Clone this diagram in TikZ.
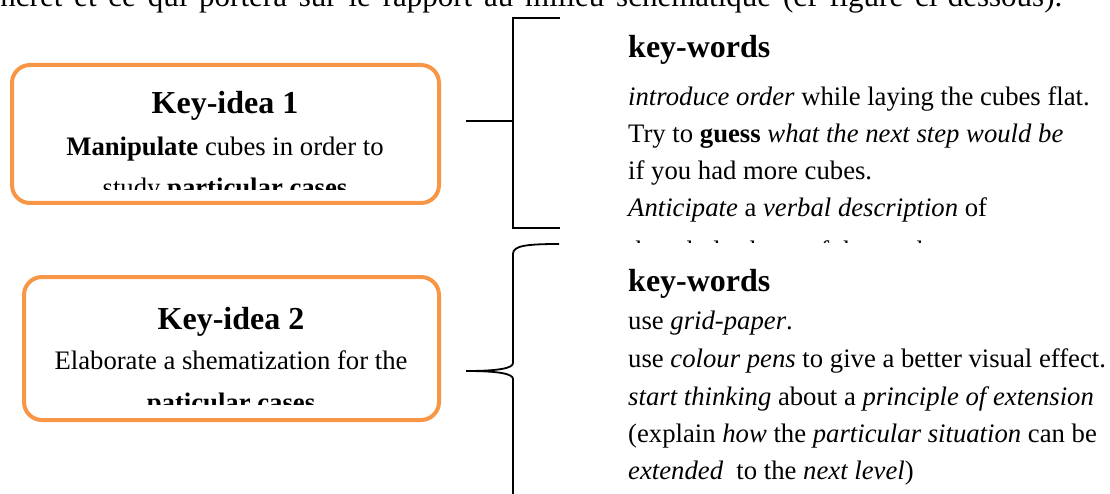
\documentclass[tikz,border=0pt]{standalone}
\usepackage{fontspec}
\setmainfont{Liberation Serif}
\definecolor{orng}{HTML}{F79646}
\begin{document}
\begin{tikzpicture}[x=1pt,y=-1pt,
  keybox/.style={draw=orng, line width=4pt, rounded corners=18pt, inner sep=0pt},
  body/.style={font=\fontsize{26.7}{32}\selectfont, inner sep=0pt, anchor=base west},
  bodyc/.style={body, anchor=base},
  head/.style={font=\fontsize{32}{38}\selectfont\bfseries, inner sep=0pt, anchor=base west},
  headc/.style={head, anchor=base},
  brk/.style={line width=1.8pt, black, line join=miter}]
\useasboundingbox (0,0) rectangle (1110,494);
\clip (0,0) rectangle (1110,494);

% cut-off line of running text at the top
\node[body, font=\fontsize{31}{36}\selectfont] (toptext) at (-29,7) {\makebox[1091pt][s]{concret et ce qui portera sur le rapport au milieu schématique (cf figure ci-dessous).}};

% Key-idea 1
\node[keybox, minimum width=427pt, minimum height=138pt] (box1) at (225.5,134) {};
\node[headc] (k1title) at (225,114) {Key-idea 1};
\node[bodyc] (k1a) at (225,156) {\textbf{Manipulate} cubes in order to};
\begin{scope}
  \clip (14,150) rectangle (437,190);
  \node[bodyc] (k1b) at (225,197) {study \textbf{particular cases}};
\end{scope}

% Key-idea 2
\node[keybox, minimum width=415pt, minimum height=143pt] (box2) at (231.5,348.5) {};
\node[headc] (k2title) at (231,329) {Key-idea 2};
\node[bodyc] (k2a) at (231,369) {Elaborate a shematization for the};
\begin{scope}
  \clip (26,370) rectangle (437,404);
  \node[bodyc] (k2b) at (231,411) {\textbf{paticular cases}};
\end{scope}

% bracket 1
\coordinate (b1top) at (560,18);
\coordinate (b1mid) at (513,121);
\coordinate (b1bot) at (560,228);
\coordinate (b1tip) at (466,121);
\draw[brk] (b1top) -| (b1mid) |- (b1bot);
\draw[brk] (b1tip) -- (b1mid);

% brace 2
\coordinate (b2top) at (559,244);
\coordinate (b2tip) at (466,371);
\coordinate (b2end) at (513,500);
\draw[brk] (b2top) .. controls (525,244) and (513,246) .. (513,254) -- (513,363)
  .. controls (513,368) and (500,371) .. (b2tip)
  .. controls (500,371) and (513,374) .. (513,379) -- (b2end);

% key-words 1
\node[head] (kw1) at (628,58) {key-words};
\node[body] (kw1a) at (628,106) {\textit{introduce order} while laying the cubes flat.};
\node[body] (kw1b) at (628,143) {Try to \textbf{guess} \textit{what the next step would be}};
\node[body] (kw1c) at (628,180) {if you had more cubes.};
\node[body] (kw1d) at (628,217) {\textit{Anticipate} a \textit{verbal description} of};
\begin{scope}
  \clip (600,230) rectangle (1110,243);
  \node[body] (kw1e) at (628,259) {the whole shape of the stack.};
\end{scope}

% key-words 2
\node[head] (kw2) at (628,291) {key-words};
\node[body] (kw2a) at (628,329) {use \textit{grid-paper}.};
\node[body] (kw2b) at (628,367) {use \textit{colour pens} to give a better visual effect.};
\node[body] (kw2c) at (628,405) {\textit{start thinking} about a \textit{principle of extension}};
\node[body] (kw2d) at (628,442) {(explain \textit{how} the \textit{particular situation} can be};
\node[body] (kw2e) at (628,479) {\textit{extended}\ \ to the \textit{next level})};
\end{tikzpicture}
\end{document}
